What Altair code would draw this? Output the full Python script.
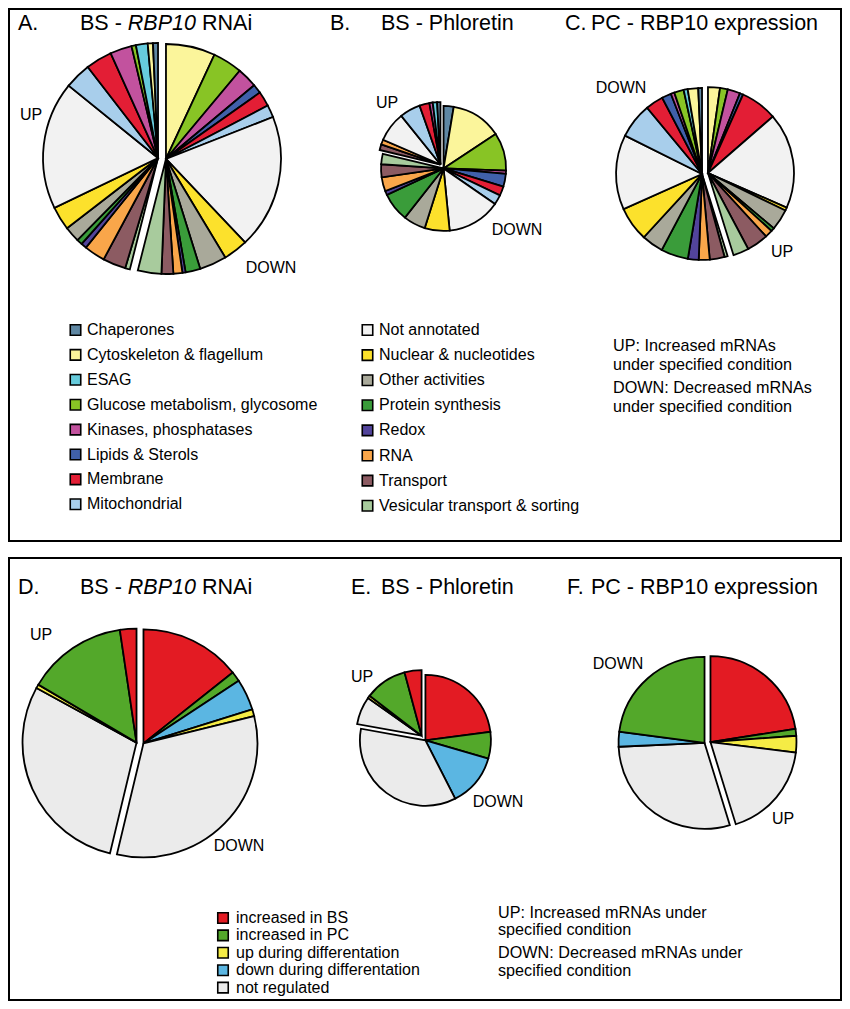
import math
import altair as alt
import pandas as pd

# ---------------- data ----------------
TOP_CATS = ["Chaperones", "Cytoskeleton & flagellum", "ESAG", "Glucose metabolism, glycosome",
            "Kinases, phosphatases", "Lipids & Sterols", "Membrane", "Mitochondrial",
            "Not annotated", "Nuclear & nucleotides", "Other activities", "Protein synthesis",
            "Redox", "RNA", "Transport", "Vesicular transport & sorting"]
TOP_COLORS = ["#5f87a3", "#fbf59b", "#66cbdc", "#88c425", "#c2529e", "#4060aa", "#e31e35", "#a8ceeb",
              "#f2f2f2", "#fce12c", "#a9a99a", "#3a9c3a", "#52449b", "#f9a64a", "#8c5b62", "#a8cb9d"]

BOT_CATS = ["increased in BS", "increased in PC", "up during differentation",
            "down during differentation", "not regulated"]
BOT_COLORS = ["#e31b23", "#53a82a", "#f5ec45", "#5bb6e2", "#ebebeb"]
BOT_DRAW = ["increased in BS", "increased in PC", "down during differentation",
            "up during differentation", "not regulated"]

# values (category order of TOP_CATS)
A_DOWN = [0, 24.7, 0, 14.8, 10.1, 4.6, 7.5, 6.2, 67.3, 12.3, 13.6, 7.4, 1.6, 4.5, 5.9, 11.8]
A_UP = [2.5, 2.6, 5.9, 2.2, 10.9, 0, 13.2, 13.2, 64.1, 11.8, 7.8, 2.8, 2.8, 10.5, 11.5, 2.4]
B_DOWN = [9.3, 46.6, 0, 35, 3, 11.9, 8.5, 9, 49.2, 22.9, 20.4, 26.5, 3.9, 12.8, 11.9, 9.5]
B_UP = [3, 0, 4, 0, 3.1, 0, 9.2, 19.1, 27.5, 0, 0, 0, 0, 4.5, 5.3, 0]
C_UP = [0, 8, 0, 5.2, 8.4, 2.2, 24.6, 0, 64, 2.1, 14, 2.3, 0, 5.1, 14.4, 10.5]
C_DOWN = [2.5, 7, 2.7, 6.4, 2.4, 6.3, 11.9, 23.6, 50, 23, 14.5, 18.2, 7.2, 7.3, 9.9, 2.1]

# values (order of BOT_DRAW)
D_DOWN = [51.4, 5.1, 15.9, 3.5, 117.1]
D_UP = [8.4, 50.9, 0, 1.9, 104.9]
E_DOWN = [81.8, 23.4, 46.3, 0, 126]
E_UP = [14.9, 37.1, 0, 2.3, 24.7]
F_UP = [80.9, 4.6, 0, 11.2, 65.6]
F_DOWN = [0, 82.2, 10, 0, 104.2]

OFF = 8  # page margin
FONT = "Liberation Sans"

ALL_CATS = TOP_CATS + BOT_CATS
ALL_COLORS = TOP_COLORS + BOT_COLORS
COLOR = alt.Scale(domain=ALL_CATS, range=ALL_COLORS)
THETA = alt.Scale(domain=[0, 360], range=[0, 2 * math.pi])


def pie_rows(cats, right_vals, left_vals, cx, cy, d):
    total = sum(right_vals) + sum(left_vals)
    groups = [list(zip(cats, right_vals)), list(reversed(list(zip(cats, left_vals))))]
    rows = []
    acc = 0.0
    for items in groups:
        gsum = sum(v for _, v in items)
        mid = (acc + gsum / 2) / total * 2 * math.pi
        dx = d * math.sin(mid)
        dy = -d * math.cos(mid)
        for c, v in items:
            if v <= 0:
                continue
            rows.append(dict(cat=c, start=acc / total * 360, end=(acc + v) / total * 360,
                             cx=cx - OFF + dx, cy=cy - OFF + dy))
            acc += v
    return pd.DataFrame(rows)


def pie(df, r):
    return alt.Chart(df).mark_arc(radius=r, stroke="black", strokeWidth=1.8).encode(
        theta=alt.Theta("start:Q", scale=THETA, stack=None),
        theta2="end:Q",
        x=alt.X("cx:Q", scale=None, axis=None),
        y=alt.Y("cy:Q", scale=None, axis=None),
        color=alt.Color("cat:N", scale=COLOR, legend=None),
    )


def texts(items, size, style="normal", align="left", baseline="alphabetic"):
    df = pd.DataFrame([dict(text=t, x=x - OFF, y=y - OFF) for t, x, y in items])
    return alt.Chart(df).mark_text(font=FONT, fontSize=size, fontStyle=style, align=align,
                                   baseline=baseline, color="black").encode(
        x=alt.X("x:Q", scale=None, axis=None),
        y=alt.Y("y:Q", scale=None, axis=None),
        text="text:N",
    )


layers = []

# boxes
for y1, y2 in [(1, 533), (550, 992)]:
    layers.append(alt.Chart(pd.DataFrame({"a": [0]})).mark_rect(
        filled=False, stroke="black", strokeWidth=2).encode(
        x=alt.value(1), x2=alt.value(833), y=alt.value(y1), y2=alt.value(y2)))

# pies
layers.append(pie(pie_rows(TOP_CATS, A_DOWN, A_UP, 162, 158.5, 4), 115))
layers.append(pie(pie_rows(TOP_CATS, B_DOWN, B_UP, 442, 166.5, 2.5), 62.5))
layers.append(pie(pie_rows(TOP_CATS, C_UP, C_DOWN, 705, 173.5, 3), 86))
layers.append(pie(pie_rows(BOT_DRAW, D_DOWN, D_UP, 140, 743, 3.5), 114))
layers.append(pie(pie_rows(BOT_DRAW, E_DOWN, E_UP, 423.5, 738, 3), 65.5))
layers.append(pie(pie_rows(BOT_DRAW, F_UP, F_DOWN, 707.5, 742.5, 3), 86))

# titles
TS = 21.5
layers.append(texts([("A.", 18, 30), ("BS - ", 80, 30), ("RNAi", 202, 30),
                     ("B.", 330, 30), ("BS - Phloretin", 381, 30),
                     ("C.", 565, 30), ("PC - RBP10 expression", 591, 30),
                     ("D.", 18, 594), ("BS - ", 80, 594), ("RNAi", 202, 594),
                     ("E.", 351, 594), ("BS - Phloretin", 381, 594),
                     ("F.", 567, 594), ("PC - RBP10 expression", 591, 594)], TS))
layers.append(texts([("RBP10", 127.8, 30), ("RBP10", 127.8, 594)], TS, style="italic"))

# UP / DOWN labels
layers.append(texts([("UP", 31, 115), ("DOWN", 271, 268), ("UP", 387, 103), ("DOWN", 517, 230),
                     ("DOWN", 621, 88), ("UP", 782, 252), ("UP", 41, 635), ("DOWN", 239, 846),
                     ("UP", 362, 677), ("DOWN", 498, 802), ("DOWN", 618, 664), ("UP", 783, 819)],
                    16, align="center", baseline="middle"))

# legends
leg_rows = []
for i, c in enumerate(TOP_CATS[:8]):
    leg_rows.append(dict(cat=c, sx=75.5 - OFF, tx=87 - OFF, y=330 + i * 24.9 - OFF))
for i, c in enumerate(TOP_CATS[8:]):
    leg_rows.append(dict(cat=c, sx=367.5 - OFF, tx=379 - OFF, y=330 + i * 25.1 - OFF))
for i, c in enumerate(BOT_CATS):
    leg_rows.append(dict(cat=c, sx=223 - OFF, tx=236 - OFF, y=918 + i * 17.4 - OFF))
leg = pd.DataFrame(leg_rows)
layers.append(alt.Chart(leg).mark_square(size=110, stroke="black", strokeWidth=1.6, opacity=1).encode(
    x=alt.X("sx:Q", scale=None, axis=None), y=alt.Y("y:Q", scale=None, axis=None),
    color=alt.Color("cat:N", scale=COLOR, legend=None)))
layers.append(alt.Chart(leg).mark_text(font=FONT, fontSize=16, align="left", baseline="middle",
                                       color="black").encode(
    x=alt.X("tx:Q", scale=None, axis=None), y=alt.Y("y:Q", scale=None, axis=None), text="cat:N"))

# notes
layers.append(texts([("UP: Increased mRNAs", 613, 346), ("under specified condition", 613, 365),
                     ("DOWN: Decreased mRNAs", 613, 388), ("under specified condition", 613, 407),
                     ("UP: Increased mRNAs under", 498, 913), ("specified condition", 498, 930),
                     ("DOWN: Decreased mRNAs under", 498, 953), ("specified condition", 498, 971)],
                    16.2, baseline="middle"))

chart = alt.layer(*layers).properties(
    width=834, height=993, padding=0, autosize=alt.AutoSizeParams(type="none"),
    background="white",
).configure_view(stroke=None)

chart.save("out.html", embed_options={"renderer": "svg", "actions": False})
